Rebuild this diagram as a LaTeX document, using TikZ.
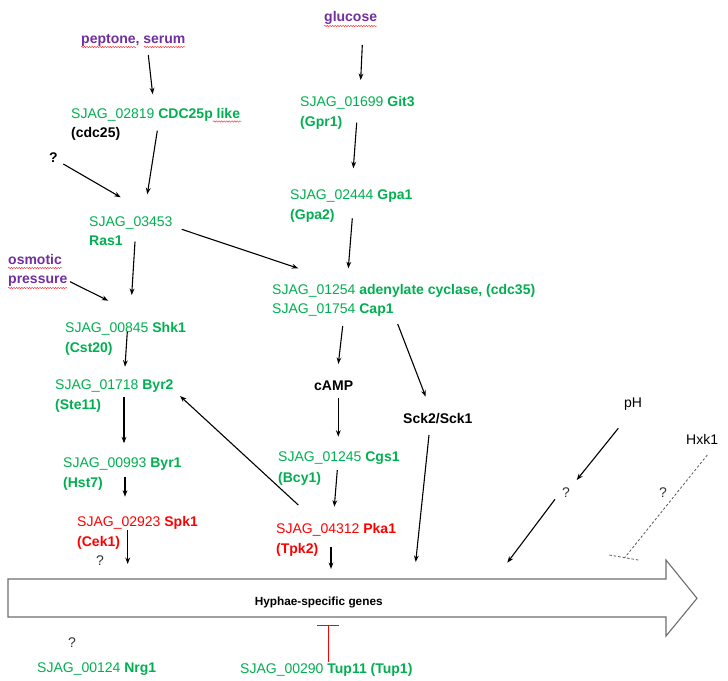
\documentclass[tikz,border=0pt]{standalone}
\usepackage{fontspec}
\setmainfont{Liberation Sans}
\usetikzlibrary{arrows.meta,decorations.pathmorphing}
\definecolor{gtxt}{RGB}{0,176,80}
\definecolor{rtxt}{RGB}{255,0,0}
\definecolor{ptxt}{RGB}{112,48,160}
\definecolor{arrgray}{RGB}{110,110,110}
\newcommand{\fsz}{\fontsize{14}{19}\selectfont}
\begin{document}
\begin{tikzpicture}[x=1pt,y=-1pt,
  lbl/.style={anchor=base west,inner sep=0pt,font=\fsz},
  gr/.style={lbl,text=gtxt},
  rd/.style={lbl,text=rtxt},
  bk/.style={lbl,text=black},
  pur/.style={lbl,text=ptxt,font=\fsz\bfseries},
  arr/.style={-{Stealth[length=6.5pt,width=4.8pt]},line width=1.1pt},
  squig/.style={draw=red!80,line width=0.45pt,decorate,decoration={snake,amplitude=0.7pt,segment length=2.6pt}},
  hxkline/.style={draw=black!65,line width=0.8pt,dash pattern=on 2.5pt off 2pt}
]
\useasboundingbox (0,0) rectangle (728,680);
\fill[white] (0,0) rectangle (728,680);

% ---- text nodes ----
\node[pur] (pep) at (81,43) {peptone, serum};
\node[pur] (glu) at (324,21) {glucose};
\node[gr] (cdcA) at (71,118) {SJAG\_02819 \textbf{CDC25p like}};
\node[bk] (cdcB) at (71,137) {\textbf{(cdc25)}};
\node[bk] (q1) at (49,162) {\textbf{?}};
\node[gr] (rasA) at (89,226) {SJAG\_03453};
\node[gr] (rasB) at (89,245) {\textbf{Ras1}};
\node[pur] (osmA) at (8,264) {osmotic};
\node[pur] (osmB) at (8,283) {pressure};
\node[gr] (shkA) at (65,332) {SJAG\_00845 \textbf{Shk1}};
\node[gr] (shkB) at (65,352) {\textbf{(Cst20)}};
\node[gr] (byr2A) at (55,389) {SJAG\_01718 \textbf{Byr2}};
\node[gr] (byr2B) at (55,409) {\textbf{(Ste11)}};
\node[gr] (byr1A) at (63,467) {SJAG\_00993 \textbf{Byr1}};
\node[gr] (byr1B) at (63,487) {\textbf{(Hst7)}};
\node[rd] (spkA) at (77,526) {SJAG\_02923 \textbf{Spk1}};
\node[rd] (spkB) at (77,546) {\textbf{(Cek1)}};
\node[bk,text=black!80] (q2) at (96,565) {?};
\node[gr] (git3A) at (300,106) {SJAG\_01699 \textbf{Git3}};
\node[gr] (git3B) at (300,126) {\textbf{(Gpr1)}};
\node[gr] (gpaA) at (290,199) {SJAG\_02444 \textbf{Gpa1}};
\node[gr] (gpaB) at (290,219) {\textbf{(Gpa2)}};
\node[gr] (acA) at (272,294) {SJAG\_01254 \textbf{adenylate cyclase, (cdc35)}};
\node[gr] (acB) at (272,313) {SJAG\_01754 \textbf{Cap1}};
\node[bk] (camp) at (314,390) {\textbf{cAMP}};
\node[gr] (cgsA) at (278,461) {SJAG\_01245 \textbf{Cgs1}};
\node[gr] (cgsB) at (278,482) {\textbf{(Bcy1)}};
\node[rd] (pkaA) at (276,533) {SJAG\_04312 \textbf{Pka1}};
\node[rd] (pkaB) at (276,553) {\textbf{(Tpk2)}};
\node[bk] (sck) at (403,423) {\textbf{Sck2/Sck1}};
\node[bk] (ph) at (624,407) {pH};
\node[bk,text=black!80] (q3) at (562,497) {?};
\node[bk] (hxk) at (686,444) {Hxk1};
\node[bk,text=black!80] (q4) at (659,497) {?};
\node[bk,text=black!80] (q5) at (68,647) {?};
\node[gr] (nrg) at (37,672) {SJAG\_00124 \textbf{Nrg1}};
\node[gr] (tup) at (240,673) {SJAG\_00290 \textbf{Tup11 (Tup1)}};

% ---- spell-check squiggles ----
\draw[squig] (81,47) -- (136,47);
\draw[squig] (144,47) -- (185,47);
\draw[squig] ([yshift=-5pt]glu.base west) -- ([yshift=-5pt]glu.base east);
\draw[squig] (213,121.5) -- (241.5,121.5);
\draw[squig] ([yshift=-4pt]osmA.base west) -- ([yshift=-4pt]osmA.base east);
\draw[squig] ([yshift=-5pt]osmB.base west) -- ([yshift=-5pt]osmB.base east);

% ---- big arrow: hyphae-specific genes ----
\draw[arrgray,line width=1.1pt,line join=miter]
  (8,579) -- (666,579) -- (666,560) -- (697,598.3) -- (666,636) -- (666,617) -- (8,617) -- cycle;
\node[inner sep=0pt,anchor=base,font=\fontsize{11.8}{14}\selectfont\bfseries] (genes) at (318.7,605) {Hyphae-specific genes};

% ---- connector end points ----
\coordinate (pep-o) at (148.3,55);   \coordinate (cdc-i) at (152.7,94.3);
\coordinate (cdc-o) at (157.3,130.7); \coordinate (ras-i) at (147.3,194.3);
\coordinate (q1-o) at (63.3,164);    \coordinate (ras-i2) at (120.7,197.3);
\coordinate (ras-o) at (181.7,229.3); \coordinate (ac-i) at (298.3,268.3);
\coordinate (ras-o2) at (135,241.7); \coordinate (shk-i) at (131.7,295);
\coordinate (osm-o) at (70,281.7);   \coordinate (shk-i2) at (108.3,300.7);
\coordinate (shk-o) at (127.3,331.7); \coordinate (byr2-i) at (125,366.7);
\coordinate (byr2-o) at (124,396.7); \coordinate (byr1-i) at (124,443.3);
\coordinate (byr1-o) at (125,476.7); \coordinate (spk-i) at (125,496.7);
\coordinate (spk-o) at (127.7,530);  \coordinate (gen-i1) at (127.7,564);
\coordinate (glu-o) at (362.3,45);   \coordinate (git3-i) at (360.7,80);
\coordinate (git3-o) at (356.7,122.7); \coordinate (gpa-i) at (353.3,168.3);
\coordinate (gpa-o) at (352.3,218.3); \coordinate (ac-i2) at (348.3,268.3);
\coordinate (ac-o) at (342.7,326);   \coordinate (camp-i) at (338.3,364);
\coordinate (ac-o2) at (397.7,324);  \coordinate (sck-i) at (425.7,396.7);
\coordinate (camp-o) at (338.3,398.3); \coordinate (cgs-i) at (338.3,436.7);
\coordinate (cgs-o) at (337.3,470);  \coordinate (pka-i) at (334.3,506.7);
\coordinate (pka-o) at (298.3,505);  \coordinate (byr2-i2) at (180,396);
\coordinate (pka-o2) at (331,546.7); \coordinate (gen-i2) at (331,569);
\coordinate (sck-o) at (429,435);    \coordinate (gen-i3) at (415.7,562);
\coordinate (ph-o) at (618.3,428.3); \coordinate (q3-i) at (576.7,480);
\coordinate (q3-o) at (555,499.3);   \coordinate (gen-i4) at (507.3,562.7);
\coordinate (hxk-o) at (707.3,455);  \coordinate (gen-i5) at (625,557.3);
\coordinate (bar-l) at (609.3,555);  \coordinate (bar-r) at (638.3,560);
\coordinate (tup-o) at (328.3,661.7); \coordinate (gen-t) at (328.3,625);
\coordinate (tbar-l) at (317,625);   \coordinate (tbar-r) at (339.3,625);

% ---- connectors ----
\draw[arr] (pep-o) -- (cdc-i);
\draw[arr] (cdc-o) -- (ras-i);
\draw[arr] (q1-o) -- (ras-i2);
\draw[arr] (ras-o) -- (ac-i);
\draw[arr] (ras-o2) -- (shk-i);
\draw[arr] (osm-o) -- (shk-i2);
\draw[arr] (shk-o) -- (byr2-i);
\draw[arr] (byr2-o) -- (byr1-i);
\draw[arr] (byr1-o) -- (spk-i);
\draw[arr] (spk-o) -- (gen-i1);
\draw[arr] (glu-o) -- (git3-i);
\draw[arr] (git3-o) -- (gpa-i);
\draw[arr] (gpa-o) -- (ac-i2);
\draw[arr] (ac-o) -- (camp-i);
\draw[arr] (ac-o2) -- (sck-i);
\draw[arr] (camp-o) -- (cgs-i);
\draw[arr] (cgs-o) -- (pka-i);
\draw[arr] (pka-o) -- (byr2-i2);
\draw[arr] (pka-o2) -- (gen-i2);
\draw[arr] (sck-o) -- (gen-i3);
\draw[arr] (ph-o) -- (q3-i);
\draw[arr] (q3-o) -- (gen-i4);
\draw[hxkline] (hxk-o) -- (gen-i5);
\draw[hxkline] (bar-l) -- (bar-r);
\draw[red,line width=0.8pt] (tup-o) -- (gen-t);
\draw[red,line width=0.8pt] (tbar-l) -- (tbar-r);
\end{tikzpicture}
\end{document}
